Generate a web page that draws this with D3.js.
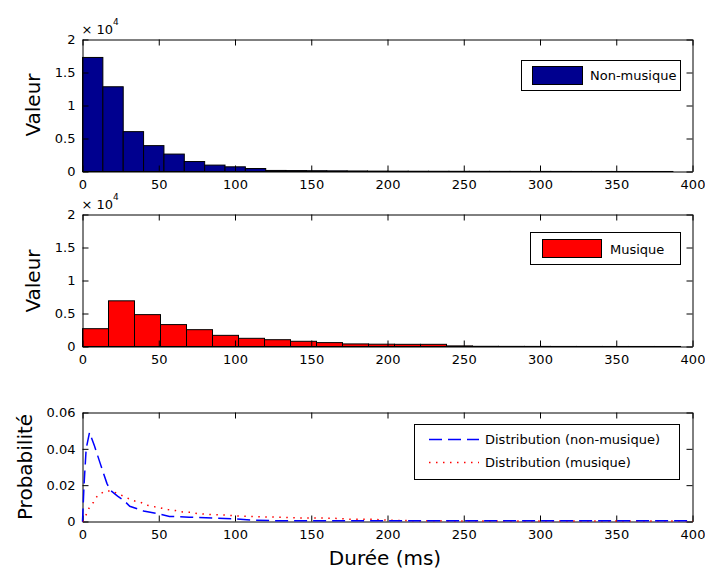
<!DOCTYPE html>
<html><head><meta charset="utf-8">
<script src="https://cdn.jsdelivr.net/npm/d3@7"></script>
<style>
body{margin:0;background:#fff}
svg{display:block}
text{font-family:"DejaVu Sans",sans-serif;fill:#000}
</style>
</head><body>
<svg id="chart" width="705" height="575"></svg>
<script>
// ---------------- data ----------------
const xTicks = [0, 50, 100, 150, 200, 250, 300, 350, 400];
const xTickLabels = ["0", "50", "100", "150", "200", "250", "300", "350", "400"];

const histYTicks = [0, 5000, 10000, 15000, 20000];
const histYTickLabels = ["0", "0.5", "1", "1.5", "2"];

const probYTicks = [0, 0.02, 0.04, 0.06];
const probYTickLabels = ["0", "0.02", "0.04", "0.06"];

// Non-musique histogram (bin width in ms, counts per bin)
const nonMusicBinWidth = 13.35;
const nonMusicCounts = [17280, 12840, 6040, 3920, 2640, 1510, 970, 710, 450, 160, 140, 120, 100, 80, 60, 50, 40, 35, 30, 25, 20, 18, 15, 12, 10, 8, 6, 5, 4, 3];

// Musique histogram
const musicBinWidth = 17.05;
const musicCounts = [2700, 6920, 4830, 3320, 2550, 1690, 1240, 1030, 790, 590, 390, 350, 330, 330, 90, 30, 20, 15, 10, 8, 6, 5, 4];

// Distributions
const nonMusicDistX = [0, 1, 2.4, 4.6, 7.7, 11.6, 16, 18.2, 23, 27, 31, 40, 49, 57, 70, 85, 100, 112, 130, 160, 200, 250, 300, 350, 400];
const nonMusicDistY = [0.0, 0.02, 0.040, 0.049, 0.042, 0.032, 0.021, 0.0172, 0.014, 0.0117, 0.0084, 0.0058, 0.0044, 0.0028, 0.0024, 0.0019, 0.0015, 0.0007, 0.0004, 0.0004, 0.0004, 0.0004, 0.0004, 0.0004, 0.0004];

const musicDistX = [0, 1, 2, 4.4, 7.2, 10, 15, 19, 24, 28, 33, 38, 42, 48, 52, 56, 61, 65, 71, 75, 84, 94, 102, 111, 126, 140, 165, 175, 190, 200, 220, 250, 300, 350, 400];
const musicDistY = [0, 0.001, 0.003, 0.0075, 0.0106, 0.0145, 0.0168, 0.0168, 0.015, 0.0135, 0.0115, 0.0106, 0.009, 0.008, 0.0073, 0.0066, 0.006, 0.0053, 0.0051, 0.0044, 0.0038, 0.0035, 0.003, 0.0027, 0.0024, 0.002, 0.0018, 0.0013, 0.0012, 0.0007, 0.0004, 0.0003, 0.0003, 0.0003, 0.0003];

const legendNonMusic = "Non-musique";
const legendMusic = "Musique";
const legendDistNonMusic = "Distribution (non-musique)";
const legendDistMusic = "Distribution (musique)";

// ---------------- layout ----------------
const svg = d3.select("#chart");
const left = 82.5, right = 692.5;
const panels = [
  {top: 39.5, bottom: 171.5},
  {top: 214.5, bottom: 346.5},
  {top: 412.5, bottom: 521.5}
];
const x = d3.scaleLinear().domain([0, 400]).range([left, right]);

function drawAxes(p, y, yTicks, yLabels) {
  const g = svg.append("g");
  const tk = 6;
  const ax = (axis, tx, ty, labels) => {
    const a = g.append("g").attr("transform", `translate(${tx},${ty})`).call(axis);
    a.selectAll("path.domain").attr("stroke", "#000").attr("stroke-width", 1);
    a.selectAll("line").attr("stroke", "#000");
    a.selectAll("text").style("font-family", '"DejaVu Sans",sans-serif').style("font-size", "13px").attr("fill", "#000");
    return a;
  };
  ax(d3.axisBottom(x).tickValues(xTicks).tickFormat((d, i) => xTickLabels[i]).tickSizeInner(-tk).tickSizeOuter(0).tickPadding(8), 0, p.bottom);
  ax(d3.axisTop(x).tickValues(xTicks).tickFormat("").tickSizeInner(-tk).tickSizeOuter(0), 0, p.top);
  ax(d3.axisLeft(y).tickValues(yTicks).tickFormat((d, i) => yLabels[i]).tickSizeInner(-tk).tickSizeOuter(0).tickPadding(7), left, 0);
  ax(d3.axisRight(y).tickValues(yTicks).tickFormat("").tickSizeInner(-tk).tickSizeOuter(0), right, 0);
}

function yLabel(text, xBase, yCenter) {
  svg.append("text")
    .attr("transform", `translate(${xBase},${yCenter}) rotate(-90)`)
    .attr("text-anchor", "middle")
    .style("font-size", "20px")
    .text(text);
}

function exponentLabel(p) {
  const t = svg.append("text").attr("x", left - 1).attr("y", p.top - 6).style("font-size", "13px");
  t.append("tspan").text("× 10");
  t.append("tspan").attr("dy", -9).style("font-size", "9px").text("4");
}

function histogram(p, counts, binWidth, color) {
  const y = d3.scaleLinear().domain([0, 20000]).range([p.bottom, p.top]);
  svg.append("g").selectAll("rect").data(counts).join("rect")
    .attr("x", (d, i) => x(i * binWidth))
    .attr("width", (d, i) => x((i + 1) * binWidth) - x(i * binWidth))
    .attr("y", d => y(d))
    .attr("height", d => y(0) - y(d))
    .attr("fill", color)
    .attr("stroke", "#000")
    .attr("stroke-width", 1);
  return y;
}

// ---------- Panel 1 ----------
const y1 = histogram(panels[0], nonMusicCounts.filter((d, i) => x((i + 1) * nonMusicBinWidth) <= right + 0.5), nonMusicBinWidth, "#00008F");
drawAxes(panels[0], y1, histYTicks, histYTickLabels);
exponentLabel(panels[0]);
yLabel("Valeur", 40, 105);
{
  const lg = svg.append("g");
  lg.append("rect").attr("x", 521.5).attr("y", 60.5).attr("width", 159).attr("height", 30).attr("fill", "#fff").attr("stroke", "#000");
  lg.append("rect").attr("x", 532.5).attr("y", 66.5).attr("width", 50).attr("height", 18).attr("fill", "#00008F").attr("stroke", "#000");
  lg.append("text").attr("x", 590).attr("y", 75.5).attr("dy", "0.36em").style("font-size", "13px").text(legendNonMusic);
}

// ---------- Panel 2 ----------
const y2 = histogram(panels[1], musicCounts.filter((d, i) => x((i + 1) * musicBinWidth) <= right + 0.5), musicBinWidth, "#FF0000");
drawAxes(panels[1], y2, histYTicks, histYTickLabels);
exponentLabel(panels[1]);
yLabel("Valeur", 40, 281);
{
  const lg = svg.append("g");
  lg.append("rect").attr("x", 530.5).attr("y", 232.5).attr("width", 150).attr("height", 32).attr("fill", "#fff").attr("stroke", "#000");
  lg.append("rect").attr("x", 542.5).attr("y", 239.5).attr("width", 59).attr("height", 18).attr("fill", "#FF0000").attr("stroke", "#000");
  lg.append("text").attr("x", 610).attr("y", 249).attr("dy", "0.36em").style("font-size", "13px").text(legendMusic);
}

// ---------- Panel 3 ----------
const p3 = panels[2];
const y3 = d3.scaleLinear().domain([0, 0.06]).range([p3.bottom, p3.top]);
drawAxes(p3, y3, probYTicks, probYTickLabels);
const line = d3.line().x(d => x(d[0])).y(d => y3(d[1]));
svg.append("path")
  .datum(musicDistX.map((v, i) => [v, musicDistY[i]]))
  .attr("d", line).attr("fill", "none").attr("stroke", "#FF0000")
  .attr("stroke-width", 1.5).attr("stroke-dasharray", "1.5,5.5");
svg.append("path")
  .datum(nonMusicDistX.map((v, i) => [v, nonMusicDistY[i]]))
  .attr("d", line).attr("fill", "none").attr("stroke", "#0000FF")
  .attr("stroke-width", 1.5).attr("stroke-dasharray", "13,6");
yLabel("Probabilité", 32, 467);
svg.append("text").attr("x", 385).attr("y", 565).attr("text-anchor", "middle").style("font-size", "20px").text("Durée (ms)");
{
  const lg = svg.append("g");
  lg.append("rect").attr("x", 414.5).attr("y", 424.5).attr("width", 265).attr("height", 55).attr("fill", "#fff").attr("stroke", "#000");
  lg.append("line").attr("x1", 429).attr("x2", 479).attr("y1", 439.5).attr("y2", 439.5).attr("stroke", "#0000FF").attr("stroke-width", 1.5).attr("stroke-dasharray", "13,6");
  lg.append("line").attr("x1", 429).attr("x2", 479).attr("y1", 462.5).attr("y2", 462.5).attr("stroke", "#FF0000").attr("stroke-width", 1.5).attr("stroke-dasharray", "1.5,5.5");
  lg.append("text").attr("x", 485).attr("y", 439.5).attr("dy", "0.36em").style("font-size", "13px").text(legendDistNonMusic);
  lg.append("text").attr("x", 485).attr("y", 462.5).attr("dy", "0.36em").style("font-size", "13px").text(legendDistMusic);
}
</script>
</body></html>
